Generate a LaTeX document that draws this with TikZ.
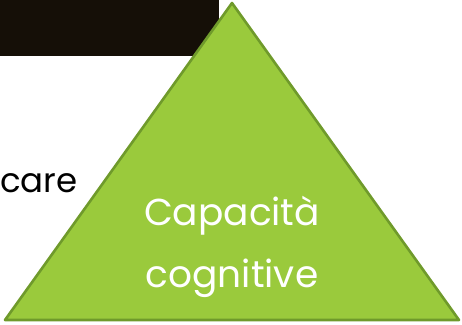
\documentclass[tikz,border=0pt]{standalone}
\usepackage{fontspec}
\setmainfont{Poppins}
\usetikzlibrary{positioning}
\definecolor{leafgreen}{HTML}{9ACA3C}
\definecolor{leafedge}{HTML}{6F9A2B}
\definecolor{barbrown}{HTML}{150F07}

\begin{document}
\begin{tikzpicture}[x=1pt, y=-1pt,
    word/.style={font=\fontsize{34}{62}\selectfont, inner sep=0pt, align=center},
  ]
  \useasboundingbox (0,0) rectangle (462,324);
  \fill[barbrown] (0,0) rectangle (219,56);
  \node[word, anchor=base west] (care) at (0,192) {care};
  \draw[fill=leafgreen, draw=leafedge, line width=2.6pt, line join=round]
    (5,320) -- (232,3) -- (459,320) -- cycle;
  \node[word, white, font=\fontsize{37.5}{62}\selectfont, anchor=base]
    (caption) at (232,287) {Capacità\\cognitive};
\end{tikzpicture}
\end{document}
